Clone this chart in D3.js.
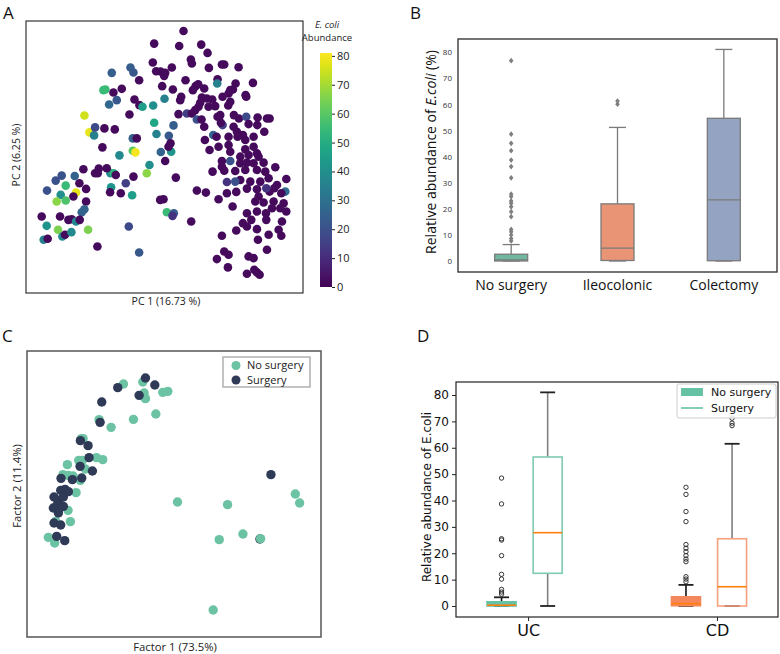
<!DOCTYPE html>
<html><head><meta charset="utf-8">
<script src="https://cdn.jsdelivr.net/npm/d3@7/dist/d3.min.js"></script>
<style>body{margin:0;background:#fff}svg{display:block}</style>
</head><body>
<svg id="chart" width="780" height="654"></svg>
<script>
// ---------------- DATA ----------------
// Panel A: PCA scores [PC1, PC2, E. coli abundance %]
const pcaScores = [
[550,92,2],[462,130,2],[537,137,2],[603,133,2],[622,158,2],[458,187,2],[572,178,2],[575,190,2],[665,193,2],[672,193,2],[626,203,2],[715,201,2],[335,218,24],[391,202,24],[400,217,22],[468,213,2],[481,214,2],[495,218,2],[515,202,2],[492,227,2],[417,240,2],[556,240,2],[652,237,2],[651,250,35],[586,258,2],[594,252,2],[578,270,2],[612,265,2],[698,268,2],[706,250,2],[758,248,2],[685,280,2],[690,270,2],[316,268,55],[310,270,55],[340,277,2],[365,266,2],[486,258,2],[518,268,2],[493,296,35],[350,300,22],[327,313,27],[403,298,2],[418,315,2],[427,320,45],[459,316,40],[543,290,2],[540,300,2],[605,292,2],[620,295,2],[636,298,2],[600,308,2],[595,320,2],[585,330,2],[625,320,2],[645,318,2],[684,316,2],[690,305,2],[738,290,2],[736,285,2],[667,290,2],
[253,346,75],[268,397,78],[282,406,35],[285,382,18],[313,385,2],[344,388,2],[388,343,2],[462,368,48],[469,402,35],[535,342,2],[560,340,15],[575,340,2],[590,358,20],[604,358,2],[612,380,2],[652,350,2],[660,345,2],[667,375,15],[662,368,2],[701,345,2],[716,355,2],[738,350,18],[772,352,2],[800,355,2],[808,355,2],[792,395,2],[771,375,2],[745,372,2],[700,380,2],[710,395,2],[520,376,24],[506,407,22],[511,430,2],[639,405,25],[614,420,2],[649,410,2],[685,410,2],[712,410,2],[728,405,2],[760,410,2],[735,420,2],[307,442,2],[398,415,25],[410,415,2],[398,452,60],[406,457,80],[358,466,38],[482,456,25],[513,455,42],[505,440,2],[495,483,2],[448,495,40],[440,520,67],
[628,450,2],[655,440,2],[685,435,2],[690,455,2],[735,448,2],[760,440,2],[770,460,2],[775,470,2],[745,465,2],[720,470,2],[665,483,2],[690,483,20],[720,490,2],[740,488,2],[760,490,2],[790,488,2],[825,502,2],[665,500,2],[637,515,2],[672,512,2],[705,513,2],[735,510,2],[770,510,2],[795,515,2],[805,535,2],[830,555,2],[780,545,2],[750,545,2],[720,540,2],[680,546,12],[705,545,20],[858,537,2],[855,575,28],[843,580,2],[822,565,2],[808,575,2],[798,565,12],[770,568,2],[740,566,2],[708,576,2],[680,580,2],[775,590,2],[765,605,2],[790,608,2],[820,605,2],[850,610,2],[858,635,2],[840,625,2],[815,625,2],[797,640,2],[770,635,2],[740,640,2],[697,620,2],[798,660,2],[845,665,2],[835,690,2],[805,705,2],[843,708,2],[770,688,2],[740,680,2],[753,660,2],[708,692,2],[665,708,2],[728,670,2],[773,720,2],[800,750,2],[745,770,2],[760,775,2],[672,755,2],[685,765,2],[650,778,2],[683,803,2],[740,822,2],[762,810,2],[778,825,2],[770,818,2],[590,572,2],[617,578,2],[655,598,2],[573,665,2],[527,533,2],[490,598,2],[480,600,2],[500,637,55],[521,640,24],[517,648,12],[386,680,18],[417,758,22],[292,740,2],[396,586,45],[362,580,2],[377,550,15],[400,530,2],[333,562,42],[330,577,2],[331,520,40],[341,520,52],[347,525,2],[320,505,2],[296,506,2],[285,520,2],[293,520,2],[250,508,2],[238,550,2],[258,567,2],[258,605,2],[253,628,25],[245,637,25],[224,528,25],[185,527,20],[167,542,20],[197,557,55],[228,578,78],[220,590,2],[182,585,40],[197,602,58],[170,605,67],[141,572,20],[180,650,2],[205,660,2],[215,658,2],[228,665,38],[239,660,2],[125,650,2],[140,678,42],[174,690,65],[187,710,38],[195,705,2],[214,697,38],[264,690,65],[131,720,35],[143,717,2]
];
const colorbarTicks = [0,10,20,30,40,50,60,70,80];

// Panel B: E. coli relative abundance by surgery type
const surgeryTypes = ["No surgery","Ileocolonic","Colectomy"];
const bQ1 = [0, 0.2, 0.1];
const bMedian = [0.4, 4.9, 23.4];
const bQ3 = [2.6, 21.9, 54.7];
const bWhiskLow = [0, 0, 0];
const bWhiskHigh = [6.3, 51.2, 81.1];
const bOutliers = [
  [7.7,8.6,10,11.2,12.1,17,18.9,20.8,22.1,23,24.7,25.6,31.9,36.2,38.7,42.3,45.1,48.6,76.8],
  [60.1,61.3],
  []
];
const bTicks = [0,10,20,30,40,50,60,70,80];

// Panel C: factor analysis scores
const cNoSurgery = [[371,191],[429,185],[433,218],[437,235],[489,216],[504,213],[298,298],[401,297],[468,281],[334,321],[245,355],[250,355],[237,420],[248,420],[290,412],[309,418],[203,433],[257,446],[190,463],[206,465],[220,467],[242,480],[229,517],[205,570],[212,604],[168,603],[146,651],[165,668],[533,545],[683,553],[886,521],[899,548],[658,658],[729,641],[640,869]];
const cSurgery = [[437,173],[465,194],[354,202],[418,225],[306,245],[301,306],[242,361],[265,376],[268,412],[241,438],[278,452],[246,473],[218,478],[184,474],[183,510],[196,507],[206,514],[163,530],[177,540],[191,530],[161,563],[173,553],[180,563],[191,558],[176,578],[163,608],[183,614],[171,648],[195,661],[813,463],[780,656]];
const cLateNoSurgery = [[782,655]];

// Panel D: by disease and surgery
const diseases = ["UC","CD"];
const dNoQ1 = [0, 0.1], dNoMed = [0.3, 0.9], dNoQ3 = [1.6, 3.5], dNoLo = [0, 0], dNoHi = [3.3, 8.0];
const dNoOut = [
  [4.5,5.3,6.3,10.2,12,19.1,25,25.5,38.7,48.5],
  [9.2,10.2,11.1,16.8,17.8,19.1,20.6,21.9,23.3,32,35.8,42.3,45]
];
const dSuQ1 = [12.4, 0], dSuMed = [27.8, 7.3], dSuQ3 = [56.5, 25.5], dSuLo = [0, 0], dSuHi = [81, 61.5];
const dSuOut = [[], [68.4,69.3,71.2]];
const dTicks = [0,10,20,30,40,50,60,70,80];

// ---------------- DRAW ----------------
const svg = d3.select("#chart");
const OS = "'Open Sans', sans-serif";
const DJ = "'DejaVu Sans', sans-serif";

function letter(x, y, t){
  svg.append("text").attr("x",x).attr("y",y).text(t)
    .attr("font-family",OS).attr("font-size",17).attr("fill","#111");
}
letter(3,19,"A"); letter(410,19,"B"); letter(2,342,"C"); letter(417,342,"D");

// ----- Panel A -----
const aX = d3.scaleLinear().domain([78,908]).range([26,303]);
const aY = d3.scaleLinear().domain([62,880]).range([21,293]);
const aColor = d3.scaleSequential(d3.interpolateViridis).domain([0,81]);
const gA = svg.append("g");
gA.selectAll("circle").data(pcaScores).join("circle")
  .attr("cx",d=>aX(d[0])).attr("cy",d=>aY(d[1])).attr("r",4.3)
  .attr("fill",d=>aColor(d[2]));
gA.append("rect").attr("x",26).attr("y",21).attr("width",277).attr("height",272)
  .attr("fill","none").attr("stroke","#222").attr("stroke-width",1.1);
gA.append("text").attr("x",166).attr("y",305).attr("text-anchor","middle")
  .attr("font-family",OS).attr("font-size",10.5).attr("fill","#222").text("PC 1 (16.73 %)");
gA.append("text").attr("transform","translate(20,155) rotate(-90)").attr("text-anchor","middle")
  .attr("font-family",OS).attr("font-size",10.5).attr("fill","#222").text("PC 2 (6.25 %)");

// colorbar
const cb = d3.scaleLinear().domain([0,81]).range([287,53]);
const defs = svg.append("defs");
const grad = defs.append("linearGradient").attr("id","vir").attr("x1",0).attr("y1",1).attr("x2",0).attr("y2",0);
d3.range(0,1.0001,0.05).forEach(t=>grad.append("stop").attr("offset",t).attr("stop-color",d3.interpolateViridis(t)));
svg.append("rect").attr("x",320).attr("y",cb(81)).attr("width",12).attr("height",cb(0)-cb(81)).attr("fill","url(#vir)");
const cbAxis = svg.append("g").attr("transform","translate(332,0)")
  .call(d3.axisRight(cb).tickValues(colorbarTicks).tickSize(3).tickPadding(2));
cbAxis.select(".domain").remove();
cbAxis.selectAll("text").attr("font-family",OS).attr("font-size",11).attr("fill","#222");
cbAxis.selectAll("line").attr("stroke","#222");
svg.append("text").attr("x",327).attr("y",28).attr("text-anchor","middle")
  .attr("font-family",OS).attr("font-size",9.5).attr("font-style","italic").attr("fill","#222").text("E. coli");
svg.append("text").attr("x",327).attr("y",41).attr("text-anchor","middle")
  .attr("font-family",OS).attr("font-size",9.5).attr("fill","#222").text("Abundance");

// ----- Panel B -----
const bX = d3.scaleBand().domain(surgeryTypes).range([458,777]);
const bY = d3.scaleLinear().domain([0,80]).range([261,52.3]);
const bFill = ["#71b6a1","#e99575","#95a3c3"];
const bLine = "#7a7a7a";
const gB = svg.append("g");
surgeryTypes.forEach((s,i)=>{
  const cx = bX(s) + bX.bandwidth()/2, hw = 16.5, cw = 8.5;
  gB.append("line").attr("x1",cx).attr("x2",cx).attr("y1",bY(bQ3[i])).attr("y2",bY(bWhiskHigh[i])).attr("stroke",bLine).attr("stroke-width",1.3);
  gB.append("line").attr("x1",cx).attr("x2",cx).attr("y1",bY(bQ1[i])).attr("y2",bY(bWhiskLow[i])).attr("stroke",bLine).attr("stroke-width",1.3);
  gB.append("line").attr("x1",cx-cw).attr("x2",cx+cw).attr("y1",bY(bWhiskHigh[i])).attr("y2",bY(bWhiskHigh[i])).attr("stroke",bLine).attr("stroke-width",1.3);
  gB.append("line").attr("x1",cx-cw).attr("x2",cx+cw).attr("y1",bY(bWhiskLow[i])).attr("y2",bY(bWhiskLow[i])).attr("stroke",bLine).attr("stroke-width",1.3);
  gB.append("rect").attr("x",cx-hw).attr("width",2*hw).attr("y",bY(bQ3[i])).attr("height",bY(bQ1[i])-bY(bQ3[i]))
    .attr("fill",bFill[i]).attr("stroke",bLine).attr("stroke-width",1.3);
  gB.append("line").attr("x1",cx-hw).attr("x2",cx+hw).attr("y1",bY(bMedian[i])).attr("y2",bY(bMedian[i])).attr("stroke",bLine).attr("stroke-width",1.3);
  gB.selectAll(null).data(bOutliers[i]).join("path")
    .attr("d","M0,-2.9L2.3,0L0,2.9L-2.3,0Z").attr("transform",d=>`translate(${cx},${bY(d)})`).attr("fill","#7f7f7f");
});
gB.append("rect").attr("x",458).attr("y",39).attr("width",319).attr("height",233)
  .attr("fill","none").attr("stroke","#3a3a3a").attr("stroke-width",1.4);
const bAxis = gB.append("g").attr("transform","translate(458,0)").call(d3.axisLeft(bY).tickValues(bTicks).tickSize(0).tickPadding(6));
bAxis.select(".domain").remove();
bAxis.selectAll("text").attr("font-family",OS).attr("font-size",8).attr("fill","#333");
const bxAxis = gB.append("g").attr("transform","translate(0,272)").call(d3.axisBottom(bX).tickSize(0).tickPadding(8));
bxAxis.select(".domain").remove();
bxAxis.selectAll("text").attr("font-family",OS).attr("font-size",14).attr("fill","#111");
const bl = gB.append("text").attr("transform","translate(436,152) rotate(-90)").attr("text-anchor","middle")
  .attr("font-family",OS).attr("font-size",14).attr("fill","#111");
bl.append("tspan").text("Relative abundance of ");
bl.append("tspan").attr("font-style","italic").text("E.coli");
bl.append("tspan").text(" (%)");

// ----- Panel C -----
const cX = d3.scaleLinear().domain([82,963]).range([27,321]);
const cY = d3.scaleLinear().domain([92,950]).range([351,637]);
const teal = "#6cc3a3", navy = "#2e3a56";
const gC = svg.append("g");
gC.selectAll("circle.ns").data(cNoSurgery).join("circle").attr("class","ns")
  .attr("cx",d=>cX(d[0])).attr("cy",d=>cY(d[1])).attr("r",4.7).attr("fill",teal);
gC.selectAll("circle.su").data(cSurgery).join("circle").attr("class","su")
  .attr("cx",d=>cX(d[0])).attr("cy",d=>cY(d[1])).attr("r",4.7).attr("fill",navy);
gC.selectAll("circle.ns2").data(cLateNoSurgery).join("circle").attr("class","ns2")
  .attr("cx",d=>cX(d[0])).attr("cy",d=>cY(d[1])).attr("r",4.7).attr("fill",teal);
gC.append("rect").attr("x",27).attr("y",351).attr("width",294).attr("height",286)
  .attr("fill","none").attr("stroke","#555").attr("stroke-width",1.5);
gC.append("rect").attr("x",223).attr("y",357).attr("width",87).attr("height",30)
  .attr("fill","#fff").attr("stroke","#aaa").attr("stroke-width",1.4);
[["No surgery",teal,365.5],["Surgery",navy,380]].forEach(([t,c,y])=>{
  gC.append("circle").attr("cx",236).attr("cy",y).attr("r",4.5).attr("fill",c);
  gC.append("text").attr("x",247).attr("y",y).attr("dy","0.35em").attr("font-family",OS).attr("font-size",11).attr("fill","#222").text(t);
});
gC.append("text").attr("x",175).attr("y",651).attr("text-anchor","middle")
  .attr("font-family",OS).attr("font-size",11.3).attr("fill","#222").text("Factor 1 (73.5%)");
gC.append("text").attr("transform","translate(21,486) rotate(-90)").attr("text-anchor","middle")
  .attr("font-family",OS).attr("font-size",11.3).attr("fill","#222").text("Factor 2 (11.4%)");

// ----- Panel D -----
const dX = d3.scaleLinear().domain([0.753,2.499]).range([456,778]);
const dY = d3.scaleLinear().domain([0,80]).range([606,395]);
const noPos = [1,2], suPos = [1.25,2.25], tickPos = [1.144,2.168];
const dTeal = "#66c2a5", dOrange = "#f4885c", medOrange = "#ff7f0e";
const gD = svg.append("g");
function dBox(pos, q1, med, q3, lo, hi, outs, fill, edge, whiskColor){
  const cx = dX(pos), hw = 14.5, cw = 7.5;
  gD.append("line").attr("x1",cx).attr("x2",cx).attr("y1",dY(q3)).attr("y2",dY(hi)).attr("stroke",whiskColor).attr("stroke-width",1.6);
  gD.append("line").attr("x1",cx).attr("x2",cx).attr("y1",dY(q1)).attr("y2",dY(lo)).attr("stroke",whiskColor).attr("stroke-width",1.6);
  [hi,lo].forEach(v=>gD.append("line").attr("x1",cx-cw).attr("x2",cx+cw).attr("y1",dY(v)).attr("y2",dY(v)).attr("stroke","#222").attr("stroke-width",1.8));
  gD.append("rect").attr("x",cx-hw).attr("width",2*hw).attr("y",dY(q3)).attr("height",Math.max(dY(q1)-dY(q3),0.5))
    .attr("fill",fill).attr("stroke",edge).attr("stroke-width",1.6);
  gD.append("line").attr("x1",cx-hw).attr("x2",cx+hw).attr("y1",dY(med)).attr("y2",dY(med)).attr("stroke",medOrange).attr("stroke-width",1.6);
  gD.selectAll(null).data(outs).join("circle").attr("cx",cx).attr("cy",d=>dY(d)).attr("r",2.2)
    .attr("fill","none").attr("stroke","#222").attr("stroke-width",0.9);
}
diseases.forEach((g,i)=>{
  const c = i===0 ? dTeal : dOrange;
  dBox(noPos[i], dNoQ1[i], dNoMed[i], dNoQ3[i], dNoLo[i], dNoHi[i], dNoOut[i], c, c, "#111");
  dBox(suPos[i], dSuQ1[i], dSuMed[i], dSuQ3[i], dSuLo[i], dSuHi[i], dSuOut[i], "none", i===0?"#7fcbb1":"#f5a07e", "#808080");
});
gD.append("rect").attr("x",456).attr("y",382).attr("width",322).attr("height",235)
  .attr("fill","none").attr("stroke","#222").attr("stroke-width",1.2);
const dyAxis = gD.append("g").attr("transform","translate(456,0)").call(d3.axisLeft(dY).tickValues(dTicks).tickSize(4).tickPadding(3));
dyAxis.select(".domain").remove();
dyAxis.selectAll("text").attr("font-family",DJ).attr("font-size",12).attr("fill","#111");
dyAxis.selectAll("line").attr("stroke","#222");
const dxAxis = gD.append("g").attr("transform","translate(0,617)")
  .call(d3.axisBottom(dX).tickValues(tickPos).tickFormat((d,i)=>diseases[i]).tickSize(4).tickPadding(4));
dxAxis.select(".domain").remove();
dxAxis.selectAll("text").attr("font-family",DJ).attr("font-size",16).attr("fill","#111");
dxAxis.selectAll("line").attr("stroke","#222");
gD.append("text").attr("transform","translate(431,497) rotate(-90)").attr("text-anchor","middle")
  .attr("font-family",DJ).attr("font-size",12).attr("fill","#111").text("Relative abundance of E.coli");
// legend
gD.append("rect").attr("x",677).attr("y",384).attr("width",99).attr("height",34).attr("rx",2)
  .attr("fill","#fff").attr("fill-opacity",0.85).attr("stroke","#ccc").attr("stroke-width",1);
gD.append("rect").attr("x",681).attr("y",388).attr("width",22).attr("height",8).attr("fill",dTeal);
gD.append("line").attr("x1",681).attr("x2",703).attr("y1",408).attr("y2",408).attr("stroke",dTeal).attr("stroke-width",1.6);
gD.append("text").attr("x",711).attr("y",392).attr("dy","0.35em").attr("font-family",DJ).attr("font-size",11).attr("fill","#111").text("No surgery");
gD.append("text").attr("x",711).attr("y",408).attr("dy","0.35em").attr("font-family",DJ).attr("font-size",11).attr("fill","#111").text("Surgery");
</script>
</body></html>
